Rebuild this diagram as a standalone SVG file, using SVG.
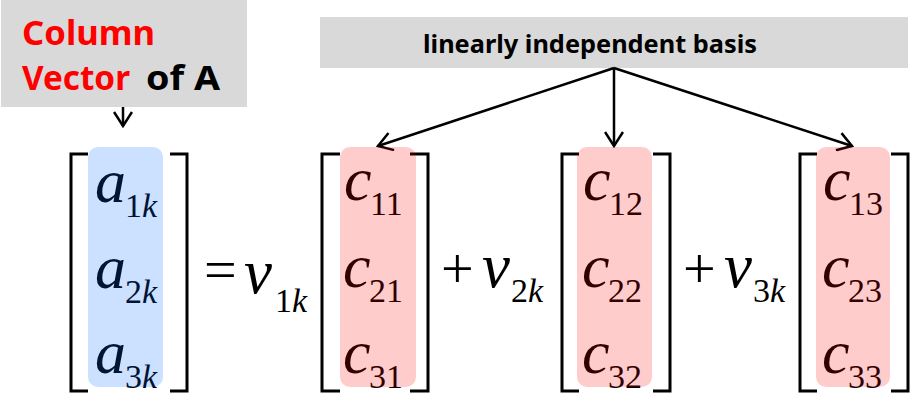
<svg xmlns="http://www.w3.org/2000/svg" width="923" height="403" viewBox="0 0 923 403">
<style>
.box{fill:#d9d9d9}
.lbl{font-family:"Noto Sans","Liberation Sans",sans-serif;font-weight:bold}
.red{fill:#ff0000}
.blk{fill:#000000}
.conn{stroke:#000;stroke-width:2.5;fill:none}
.br{stroke:#000;stroke-width:3;fill:none}
.m{font-family:"Liberation Serif","Times New Roman",serif;fill:#000}
.it{font-style:italic}
.big{font-size:62px}
.op{font-size:58px}
.vv{font-size:63px}
.sub{font-size:34px}
.blue{fill:#0064ff;fill-opacity:0.2}
.pink{fill:#ff0000;fill-opacity:0.2}
</style>
<defs>
<marker id="ah" markerUnits="userSpaceOnUse" markerWidth="18" markerHeight="20" viewBox="0 0 18 20" refX="16" refY="10" orient="auto">
<path d="M2,1 L16,10 L2,19" stroke="#000" stroke-width="2.5" fill="none"/>
</marker>
</defs>

<g id="label-column">
<rect class="box" x="1" y="0" width="246" height="107"/>
<text class="lbl red" x="22" y="45" font-size="34" textLength="133" lengthAdjust="spacingAndGlyphs">Column</text>
<text class="lbl red" x="22" y="90" font-size="34" textLength="108" lengthAdjust="spacingAndGlyphs">Vector</text>
<text class="lbl blk" x="146" y="90" font-size="34" textLength="74" lengthAdjust="spacingAndGlyphs">of A</text>
</g>

<g id="label-basis">
<rect class="box" x="320" y="17" width="588" height="51"/>
<text class="lbl blk" x="423" y="53" font-size="25" textLength="334" lengthAdjust="spacingAndGlyphs">linearly independent basis</text>
</g>

<g id="connectors">
<line class="conn" x1="123" y1="107" x2="123" y2="126" marker-end="url(#ah)"/>
<line class="conn" x1="614" y1="68" x2="378" y2="146" marker-end="url(#ah)"/>
<line class="conn" x1="614" y1="68" x2="614" y2="146" marker-end="url(#ah)"/>
<line class="conn" x1="614" y1="68" x2="852" y2="146" marker-end="url(#ah)"/>
</g>

<g id="matrix-a">
<path class="br" d="M88,154 H71 V391 H88"/>
<path class="br" d="M170,154 H187 V391 H170"/>
<text class="m it big" x="95" y="202">a</text>
<text class="m sub" x="125" y="217">1<tspan class="it">k</tspan></text>
<text class="m it big" x="95" y="288">a</text>
<text class="m sub" x="125" y="303">2<tspan class="it">k</tspan></text>
<text class="m it big" x="95" y="373">a</text>
<text class="m sub" x="125" y="388">3<tspan class="it">k</tspan></text>
<rect class="blue" x="88" y="147" width="75" height="240" rx="10"/>
</g>

<g id="equals">
<text class="m op" x="204" y="289">=</text>
<text class="m it vv" x="244" y="293">v</text>
<text class="m sub" x="275" y="312">1<tspan class="it">k</tspan></text>
</g>

<g id="matrix-c1">
<path class="br" d="M340,154 H322 V391 H340"/>
<path class="br" d="M410,154 H428 V391 H410"/>
<text class="m it big" x="344" y="200">c</text>
<text class="m sub" x="370" y="215">11</text>
<text class="m it big" x="343" y="287">c</text>
<text class="m sub" x="369" y="302">21</text>
<text class="m it big" x="343" y="373">c</text>
<text class="m sub" x="369" y="388">31</text>
<rect class="pink" x="340" y="147" width="76" height="240" rx="10"/>
</g>

<g id="plus-2">
<text class="m op" x="441" y="288">+</text>
<text class="m it vv" x="482" y="287">v</text>
<text class="m sub" x="511" y="302">2<tspan class="it">k</tspan></text>
</g>

<g id="matrix-c2">
<path class="br" d="M579,154 H562 V391 H579"/>
<path class="br" d="M653,154 H670 V391 H653"/>
<text class="m it big" x="583" y="200">c</text>
<text class="m sub" x="609" y="215">12</text>
<text class="m it big" x="582" y="287">c</text>
<text class="m sub" x="608" y="302">22</text>
<text class="m it big" x="582" y="373">c</text>
<text class="m sub" x="608" y="388">32</text>
<rect class="pink" x="577" y="147" width="75" height="240" rx="10"/>
</g>

<g id="plus-3">
<text class="m op" x="683" y="288">+</text>
<text class="m it vv" x="724" y="287">v</text>
<text class="m sub" x="753" y="302">3<tspan class="it">k</tspan></text>
</g>

<g id="matrix-c3">
<path class="br" d="M817,154 H800 V391 H817"/>
<path class="br" d="M891,154 H908 V391 H891"/>
<text class="m it big" x="823" y="200">c</text>
<text class="m sub" x="849" y="215">13</text>
<text class="m it big" x="822" y="287">c</text>
<text class="m sub" x="848" y="302">23</text>
<text class="m it big" x="822" y="373">c</text>
<text class="m sub" x="848" y="388">33</text>
<rect class="pink" x="816" y="147" width="74" height="240" rx="10"/>
</g>
</svg>
